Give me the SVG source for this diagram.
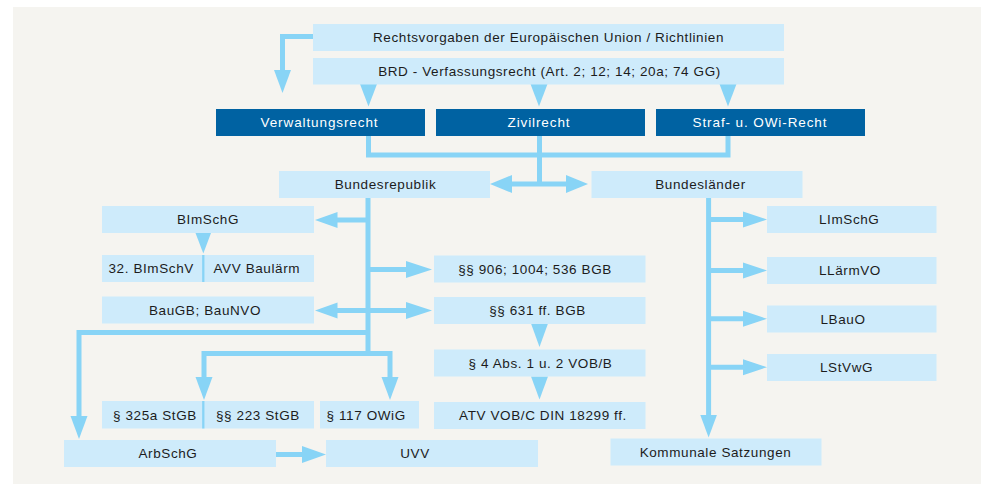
<svg xmlns="http://www.w3.org/2000/svg" width="1000" height="501" viewBox="0 0 1000 501">
<style>
.bx{fill:#ceebfb}
.dk{fill:#0062a2}
.t{font-family:"Liberation Sans",Arial,sans-serif;font-size:13.5px;fill:#1c1c1c;letter-spacing:0.6px;text-anchor:middle}
.tl{text-anchor:start}
.tw{fill:#ffffff;letter-spacing:0.9px}
.ln{fill:none;stroke:#88d4f6;stroke-width:5}
.ah{fill:#88d4f6}
.dv{stroke:#88d4f6;stroke-width:2.3}
</style>
<rect x="13" y="7" width="968" height="477" fill="#f5f4f0"/>
<g id="connectors">
<polyline class="ln" points="313,36.5 282.5,36.5 282.5,72"/>
<polygon class="ah" points="274,70 291,70 282.5,93"/>
<polygon class="ah" points="360,84 377,84 368.5,106.5"/>
<polygon class="ah" points="530.5,84 547.5,84 539,106.5"/>
<polygon class="ah" points="719.5,84 736.5,84 728,106.5"/>
<polyline class="ln" points="368.5,136 368.5,155 728,155 728,136"/>
<line class="ln" x1="539.5" y1="136" x2="539.5" y2="184"/>
<line class="ln" x1="510" y1="184" x2="568" y2="184"/>
<polygon class="ah" points="512,175 512,193 490,184"/>
<polygon class="ah" points="566,175 566,193 588,184"/>
<line class="ln" x1="368" y1="198" x2="368" y2="355.5"/>
<line class="ln" x1="368" y1="220" x2="335" y2="220"/>
<polygon class="ah" points="337.5,212 337.5,228 315,220"/>
<line class="ln" x1="368" y1="269.5" x2="408" y2="269.5"/>
<polygon class="ah" points="406,261 406,278 432,269.5"/>
<line class="ln" x1="368" y1="310.5" x2="335" y2="310.5"/>
<line class="ln" x1="368" y1="310.5" x2="408" y2="310.5"/>
<polygon class="ah" points="337.5,302.5 337.5,318.5 315,310.5"/>
<polygon class="ah" points="406,302 406,319 432,310.5"/>
<polyline class="ln" points="368,332.5 79,332.5 79,418"/>
<polygon class="ah" points="70.5,416 87.5,416 79,439"/>
<polyline class="ln" points="204,379 204,353.5 390,353.5 390,379"/>
<polygon class="ah" points="195.5,377 212.5,377 204,400"/>
<polygon class="ah" points="381.5,377 398.5,377 390,400"/>
<polygon class="ah" points="195.5,233 211,233 203.3,253.5"/>
<polygon class="ah" points="531,323.5 548,323.5 539.5,347"/>
<polygon class="ah" points="531,376.5 548,376.5 539.5,399.5"/>
<line class="ln" x1="276" y1="454.5" x2="304" y2="454.5"/>
<polygon class="ah" points="302,446 302,463 326,454.5"/>
<line class="ln" x1="708.6" y1="198" x2="708.6" y2="418"/>
<polygon class="ah" points="700.3,415 716.9,415 708.6,437.5"/>
<line class="ln" x1="708.6" y1="219.5" x2="745" y2="219.5"/>
<polygon class="ah" points="743,211.5 743,227.5 767,219.5"/>
<line class="ln" x1="708.6" y1="270.5" x2="745" y2="270.5"/>
<polygon class="ah" points="743,262.5 743,278.5 767,270.5"/>
<line class="ln" x1="708.6" y1="318.8" x2="745" y2="318.8"/>
<polygon class="ah" points="743,310.8 743,326.8 767,318.8"/>
<line class="ln" x1="708.6" y1="367.2" x2="745" y2="367.2"/>
<polygon class="ah" points="743,359.2 743,375.2 767,367.2"/>
</g>
<g id="eu"><rect class="bx" x="313" y="24" width="471" height="27"/><text class="t" x="548.5" y="42">Rechtsvorgaben der Europäischen Union / Richtlinien</text></g>
<g id="brd"><rect class="bx" x="313" y="58" width="471" height="26.5"/><text class="t" x="549.5" y="76">BRD - Verfassungsrecht (Art. 2; 12; 14; 20a; 74 GG)</text></g>
<g id="verwaltungsrecht"><rect class="dk" x="216" y="109" width="209" height="27"/><text class="t tw" x="319.5" y="127">Verwaltungsrecht</text></g>
<g id="zivilrecht"><rect class="dk" x="436" y="109" width="209" height="27"/><text class="t tw" x="539" y="127">Zivilrecht</text></g>
<g id="strafrecht"><rect class="dk" x="656" y="109" width="209" height="27"/><text class="t tw" x="760" y="127">Straf- u. OWi-Recht</text></g>
<g id="bundesrepublik"><rect class="bx" x="279" y="171" width="211" height="27"/><text class="t" x="385.5" y="189">Bundesrepublik</text></g>
<g id="bundeslaender"><rect class="bx" x="591.5" y="171" width="211" height="27"/><text class="t" x="700.5" y="189">Bundesländer</text></g>
<g id="bimschg"><rect class="bx" x="102" y="206" width="212" height="27"/><text class="t" x="208" y="224">BImSchG</text></g>
<g id="bimschv"><rect class="bx" x="102" y="255" width="212" height="27"/><line class="dv" x1="203.3" y1="255" x2="203.3" y2="282"/><text class="t tl" x="108.5" y="273">32. BImSchV</text><text class="t tl" x="213.5" y="273">AVV Baulärm</text></g>
<g id="baugb"><rect class="bx" x="102" y="296.5" width="212" height="27"/><text class="t" x="205" y="314.5">BauGB; BauNVO</text></g>
<g id="bgb906"><rect class="bx" x="434" y="255.5" width="211.5" height="27"/><text class="t" x="535" y="273.5">§§ 906; 1004; 536 BGB</text></g>
<g id="bgb631"><rect class="bx" x="434" y="297" width="211.5" height="27"/><text class="t" x="537.5" y="315">§§ 631 ff. BGB</text></g>
<g id="vobb"><rect class="bx" x="434" y="349.5" width="211.5" height="27"/><text class="t" x="540.5" y="367.5">§ 4 Abs. 1 u. 2 VOB/B</text></g>
<g id="vobc"><rect class="bx" x="434" y="402" width="211.5" height="27"/><text class="t" x="543" y="420">ATV VOB/C DIN 18299 ff.</text></g>
<g id="stgb"><rect class="bx" x="102" y="401" width="212" height="27.5"/><line class="dv" x1="203.3" y1="401" x2="203.3" y2="428.5"/><text class="t tl" x="113" y="419.5">§ 325a StGB</text><text class="t tl" x="216" y="419.5">§§ 223 StGB</text></g>
<g id="owig"><rect class="bx" x="320" y="401" width="99" height="27.5"/><text class="t tl" x="326.5" y="419.5">§ 117 OWiG</text></g>
<g id="arbschg"><rect class="bx" x="64" y="440" width="212" height="27"/><text class="t" x="168" y="458">ArbSchG</text></g>
<g id="uvv"><rect class="bx" x="326" y="440" width="212" height="27"/><text class="t" x="415" y="458">UVV</text></g>
<g id="kommunal"><rect class="bx" x="610.5" y="438.5" width="211" height="27"/><text class="t" x="715.5" y="456.5">Kommunale Satzungen</text></g>
<g id="limschg"><rect class="bx" x="767" y="206" width="169.5" height="27"/><text class="t tl" x="819" y="224">LImSchG</text></g>
<g id="llaermvo"><rect class="bx" x="767" y="257" width="169.5" height="27"/><text class="t tl" x="819" y="275">LLärmVO</text></g>
<g id="lbauo"><rect class="bx" x="767" y="305.5" width="169.5" height="27"/><text class="t tl" x="820.5" y="323.5">LBauO</text></g>
<g id="lstvwg"><rect class="bx" x="767" y="354" width="169.5" height="27"/><text class="t tl" x="820" y="372">LStVwG</text></g>
</svg>
